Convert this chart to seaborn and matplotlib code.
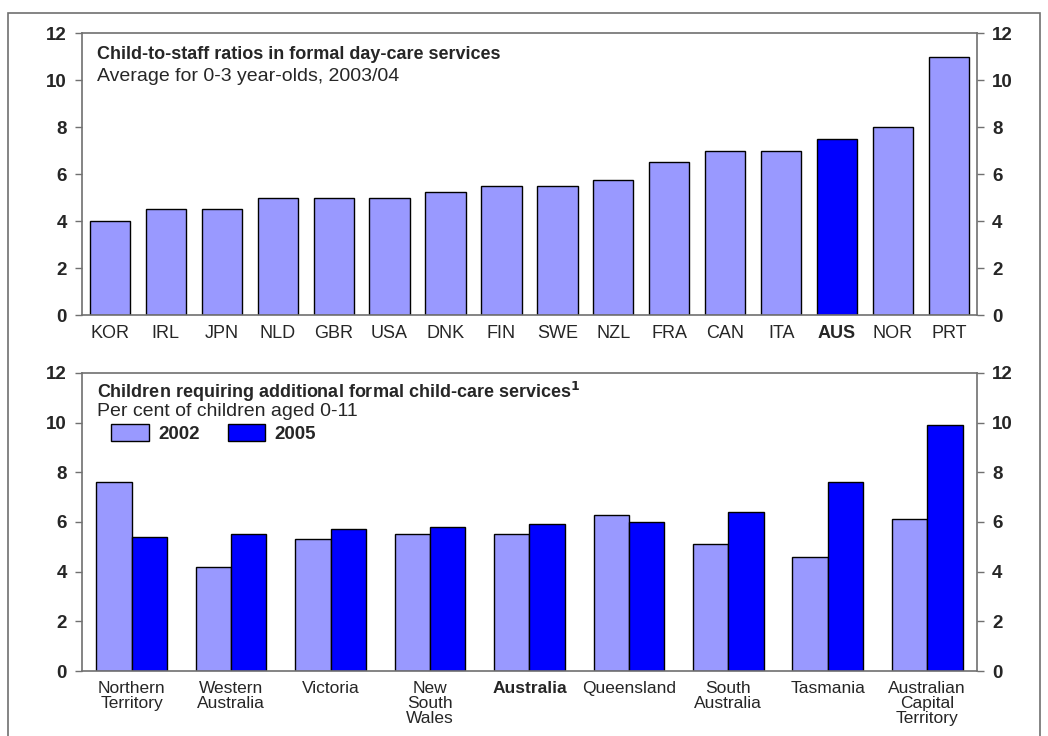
import pandas as pd
import numpy as np
import matplotlib.pyplot as plt
import seaborn as sns
from matplotlib.patches import Rectangle

# Top panel: child-to-staff ratios
countries = ["KOR", "IRL", "JPN", "NLD", "GBR", "USA", "DNK", "FIN", "SWE",
             "NZL", "FRA", "CAN", "ITA", "AUS", "NOR", "PRT"]
ratios = [4.0, 4.5, 4.5, 5.0, 5.0, 5.0, 5.25, 5.5, 5.5, 5.75, 6.5, 7.0, 7.0, 7.5, 8.0, 11.0]

# Bottom panel: children requiring additional child-care
states = ["Northern\nTerritory", "Western\nAustralia", "Victoria", "New\nSouth\nWales",
          "Australia", "Queensland", "South\nAustralia", "Tasmania",
          "Australian\nCapital\nTerritory"]
share_2002 = [7.6, 4.2, 5.3, 5.5, 5.5, 6.3, 5.1, 4.6, 6.1]
share_2005 = [5.4, 5.5, 5.7, 5.8, 5.9, 6.0, 6.4, 7.6, 9.9]

LIGHT = "#9999FF"
DARK = "#0000FF"
GREY = "#707070"

sns.set_style("white")
plt.rcParams["font.family"] = ["Liberation Sans", "DejaVu Sans"]
plt.rcParams["font.size"] = 12

fig = plt.figure(figsize=(10.48, 7.36), dpi=100)
ax1 = fig.add_axes([0.0782, 0.572, 0.854, 0.383])
ax2 = fig.add_axes([0.0782, 0.0883, 0.854, 0.405])

# outer frame
fig.patches.append(Rectangle((0.0076, -0.01), 0.9848, 0.9923, transform=fig.transFigure,
                             fill=False, edgecolor=GREY, linewidth=1.2))

top = pd.DataFrame({"country": countries, "ratio": ratios})
pal = {c: (DARK if c == "AUS" else LIGHT) for c in countries}
sns.barplot(data=top, x="country", y="ratio", hue="country", palette=pal, legend=False,
            width=0.72, edgecolor="black", linewidth=1, saturation=1, ax=ax1)

bottom = pd.DataFrame({
    "state": states * 2,
    "share": share_2002 + share_2005,
    "year": ["2002"] * len(states) + ["2005"] * len(states),
})
sns.barplot(data=bottom, x="state", y="share", hue="year",
            palette={"2002": LIGHT, "2005": DARK}, width=0.71, gap=0,
            edgecolor="black", linewidth=1, saturation=1, ax=ax2)

for ax in (ax1, ax2):
    ax.set_ylim(0, 12)
    ax.set_yticks(range(0, 13, 2))
    ax.set_xlabel("")
    ax.set_ylabel("")
    ax.tick_params(axis="y", left=True, right=True, labelleft=True, labelright=True,
                   direction="out", length=5, width=1, color=GREY, labelsize=13.5, pad=6)
    ax.tick_params(axis="x", bottom=False, labelsize=12.5, pad=4)
    for lab in ax.get_yticklabels():
        lab.set_fontweight("bold")
    for s in ax.spines.values():
        s.set_visible(True)
        s.set_color(GREY)
        s.set_linewidth(1.2)

ax1.set_xlim(-0.5, len(countries) - 0.5)
ax2.set_xlim(-0.5, len(states) - 0.5)

for lab in ax1.get_xticklabels():
    lab.set_fontsize(13)
    if lab.get_text() == "AUS":
        lab.set_fontweight("bold")
for lab in ax2.get_xticklabels():
    lab.set_linespacing(1.0)
    if lab.get_text() == "Australia":
        lab.set_fontweight("bold")

ax1.text(0.017, 0.908, "Child-to-staff ratios in formal day-care services",
         transform=ax1.transAxes, fontsize=13, fontweight="bold", va="baseline")
ax1.text(0.017, 0.830, "Average for 0-3 year-olds, 2003/04",
         transform=ax1.transAxes, fontsize=14, va="baseline")

ax2.text(0.017, 0.915, "Children requiring additional formal child-care services$^{\\mathbf{1}}$",
         transform=ax2.transAxes, fontsize=13, fontweight="bold", va="baseline")
ax2.text(0.017, 0.856, "Per cent of children aged 0-11",
         transform=ax2.transAxes, fontsize=14, va="baseline")

leg = ax2.legend(loc="upper left", bbox_to_anchor=(0.033, 0.829), ncol=2, frameon=False,
                 borderpad=0, borderaxespad=0, handlelength=2.0, handleheight=1.0,
                 handletextpad=0.5, columnspacing=1.5, fontsize=13.5)
for t in leg.get_texts():
    t.set_fontweight("bold")

fig.savefig("out.png", dpi=100)
